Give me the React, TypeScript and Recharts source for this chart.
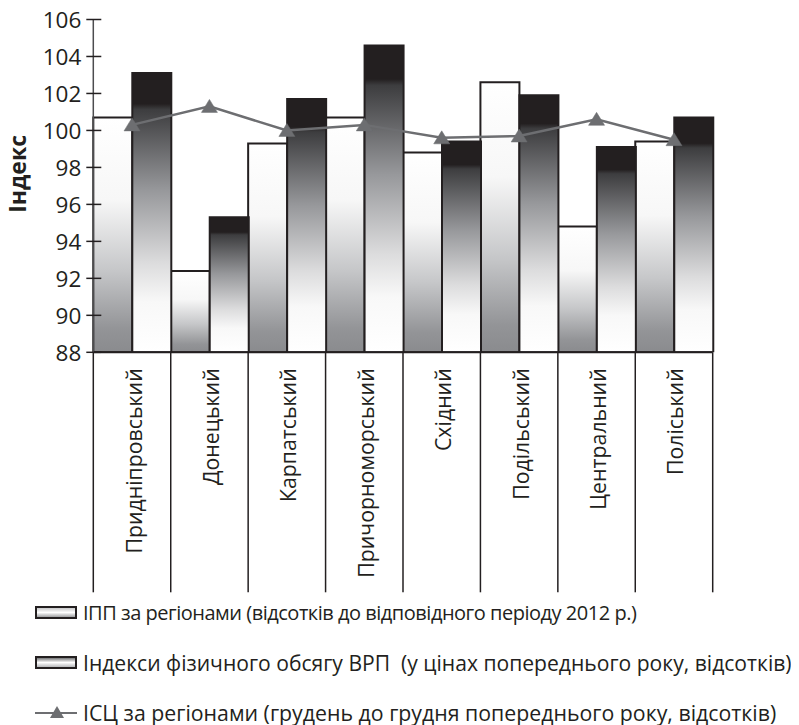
import React from 'react';
import { ComposedChart, Bar, Line, XAxis, YAxis, Legend } from 'recharts';

const regions = [
  'Придніпровський',
  'Донецький',
  'Карпатський',
  'Причорноморський',
  'Східний',
  'Подільський',
  'Центральний',
  'Поліський',
];
const ippValues = [100.7, 92.4, 99.3, 100.7, 98.8, 102.6, 94.8, 99.4];
const grpValues = [103.1, 95.3, 101.7, 104.6, 99.4, 101.9, 99.1, 100.7];
const cpiValues = [100.3, 101.3, 100.0, 100.3, 99.6, 99.7, 100.6, 99.5];
const yTicks = [88, 90, 92, 94, 96, 98, 100, 102, 104, 106];
const seriesNames = [
  'ІПП за регіонами (відсотків до відповідного періоду 2012 р.)',
  'Індекси фізичного обсягу ВРП  (у цінах попереднього року, відсотків)',
  'ІСЦ за регіонами (грудень до грудня попереднього року, відсотків)',
];
const yLabel = 'Індекс';

const data = regions.map((r, i) => ({
  region: r,
  ipp: ippValues[i],
  grp: grpValues[i],
  cpi: cpiValues[i],
}));

const FONT = "'Open Sans', 'Noto Sans', sans-serif";
const INK = '#231f20';
const LINE = '#6d6e71';

const YTick = (props: any) => {
  const { x, y, payload } = props;
  return (
    <g>
      <line x1={x + 5} x2={x + 20} y1={y} y2={y} stroke={INK} strokeWidth={1.5} />
      <text
        x={x}
        y={y}
        textAnchor="end"
        dominantBaseline="central"
        fontSize={22.5}
        fill={INK}
        fontFamily={FONT}
      >
        {payload.value}
      </text>
    </g>
  );
};

const XTick = (props: any) => {
  const { x, y, payload, index } = props;
  const half = payload && typeof payload.offset === 'number' && payload.offset > 0 ? payload.offset : 38.7;
  const last = index === regions.length - 1;
  return (
    <g>
      <line x1={x - half} x2={x - half} y1={y} y2={y + 240} stroke={INK} strokeWidth={1.5} />
      {last && <line x1={x + half} x2={x + half} y1={y} y2={y + 240} stroke={INK} strokeWidth={1.5} />}
      <text
        x={x + 1}
        y={y + 16}
        transform={`rotate(-90 ${x + 1} ${y + 16})`}
        textAnchor="end"
        dominantBaseline="central"
        fontSize={21.3}
        fill={INK}
        fontFamily={FONT}
      >
        {payload.value}
      </text>
    </g>
  );
};

const Triangle = (props: any) => {
  const { cx, cy } = props;
  if (cx == null || cy == null) return null;
  return (
    <path
      d={`M ${cx} ${cy - 7} L ${cx + 8} ${cy + 6} L ${cx - 8} ${cy + 6} Z`}
      fill={LINE}
      stroke={LINE}
      strokeWidth={0.5}
    />
  );
};

const YLabel = (props: any) => {
  const vb = props.viewBox || { x: 0, y: 0, width: 85, height: 333 };
  const cx = vb.x + 9;
  const cy = vb.y + vb.height / 2 - 12;
  return (
    <text
      x={cx}
      y={cy}
      transform={`rotate(-90 ${cx} ${cy})`}
      textAnchor="middle"
      dominantBaseline="central"
      fontSize={23}
      fontWeight="bold"
      fill={INK}
      fontFamily={FONT}
    >
      {yLabel}
    </text>
  );
};

const BarIcon = ({ id, dark }: { id: string; dark: boolean }) => (
  <svg width={42} height={13} style={{ display: 'block' }}>
    <defs>
      <linearGradient id={id} x1="0" y1="0" x2="0" y2="1">
        <stop offset="0" stopColor={dark ? '#58595b' : '#bdbdbf'} />
        <stop offset="0.5" stopColor="#ffffff" />
        <stop offset="1" stopColor={dark ? '#a7a9ac' : '#8a8b8e'} />
      </linearGradient>
    </defs>
    <rect x={1} y={1} width={40} height={11} fill={`url(#${id})`} stroke={INK} strokeWidth={2} />
  </svg>
);

const LineIcon = () => (
  <svg width={42} height={14} style={{ display: 'block' }}>
    <line x1={0} x2={42} y1={8} y2={8} stroke={LINE} strokeWidth={2} />
    <path d="M 22 1 L 29 13 L 15 13 Z" fill={LINE} />
  </svg>
);

const rowText = [
  { fontSize: 20, letterSpacing: -0.48 },
  { fontSize: 21.1, letterSpacing: 0 },
  { fontSize: 21.3, letterSpacing: 0 },
];

const LegendContent = () => (
  <div style={{ fontFamily: FONT, color: INK }}>
    {seriesNames.map((name, i) => (
      <div key={i} style={{ display: 'flex', alignItems: 'center', height: i === 2 ? 34 : 49.5, whiteSpace: 'pre', position: 'relative', top: i === 2 ? 8 : 0 }}>
        <div style={{ width: 48, flex: '0 0 48px' }}>
          {i === 0 && <BarIcon id="lg1" dark={false} />}
          {i === 1 && <BarIcon id="lg2" dark={true} />}
          {i === 2 && <LineIcon />}
        </div>
        <span style={rowText[i]}>{name}</span>
      </div>
    ))}
  </div>
);

export default function App() {
  return (
    <div style={{ width: 783, height: 717, position: 'relative' }}>
      <ComposedChart
        width={783}
        height={717}
        data={data}
        margin={{ top: 11.5, right: 78.3, left: 0, bottom: 132.7 }}
        barCategoryGap={0}
        barGap={0}
      >
        <defs>
          <linearGradient id="gradIpp" x1="0" y1="0" x2="0" y2="1">
            <stop offset="0" stopColor="#ffffff" />
            <stop offset="0.35" stopColor="#f7f7f7" />
            <stop offset="0.65" stopColor="#c6c7c9" />
            <stop offset="0.9" stopColor="#939497" />
            <stop offset="1" stopColor="#8a8b8e" />
          </linearGradient>
          <linearGradient id="gradGrp" x1="0" y1="0" x2="0" y2="1">
            <stop offset="0" stopColor="#231f20" />
            <stop offset="0.11" stopColor="#231f20" />
            <stop offset="0.13" stopColor="#3d3d3f" />
            <stop offset="0.42" stopColor="#97989b" />
            <stop offset="0.68" stopColor="#dcdcdd" />
            <stop offset="0.82" stopColor="#f8f8f8" />
            <stop offset="1" stopColor="#ffffff" />
          </linearGradient>
        </defs>
        <XAxis
          dataKey="region"
          interval={0}
          height={240}
          tickSize={0}
          tickMargin={0}
          tickLine={false}
          axisLine={{ stroke: INK, strokeWidth: 2 }}
          tick={<XTick />}
        />
        <YAxis
          domain={[88, 106]}
          ticks={yTicks}
          width={85.3}
          tickSize={7}
          tickMargin={5}
          tickLine={false}
          interval={0}
          allowDataOverflow
          axisLine={{ stroke: '#4d4d4f', strokeWidth: 1.5 }}
          tick={<YTick />}
          label={<YLabel />}
        />
        <Bar dataKey="ipp" name={seriesNames[0]} fill="url(#gradIpp)" stroke={INK} strokeWidth={2} isAnimationActive={false} />
        <Bar dataKey="grp" name={seriesNames[1]} fill="url(#gradGrp)" stroke={INK} strokeWidth={2} isAnimationActive={false} />
        <Line
          dataKey="cpi"
          name={seriesNames[2]}
          type="linear"
          stroke={LINE}
          strokeWidth={2.5}
          dot={<Triangle />}
          activeDot={false}
          isAnimationActive={false}
        />
        <Legend
          layout="vertical"
          align="center"
          verticalAlign="middle"
          wrapperStyle={{ top: 580, left: 27, width: 756 }}
          content={<LegendContent />}
        />
      </ComposedChart>
    </div>
  );
}
